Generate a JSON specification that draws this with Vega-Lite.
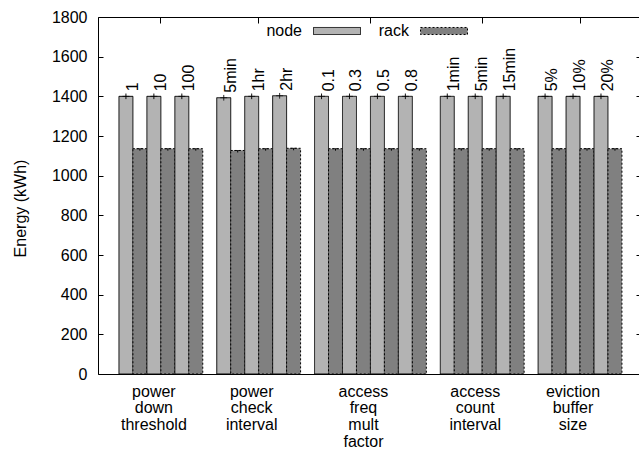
{
  "$schema": "https://vega.github.io/schema/vega-lite/v6.json",
  "width": 541,
  "height": 357,
  "autosize": {"type": "none"},
  "padding": {"left": 98, "top": 17, "right": 0, "bottom": 75},
  "config": {
    "font": "Liberation Sans",
    "view": {"stroke": null},
    "axis": {"domainColor": "black", "tickColor": "black", "labelColor": "black", "labelFont": "Liberation Sans", "labelFontSize": 16, "titleFont": "Liberation Sans", "titleFontSize": 16, "titleFontWeight": "normal", "titleColor": "black", "grid": false, "zindex": 1},
    "legend": {"labelFont": "Liberation Sans", "labelFontSize": 16, "labelColor": "black"}
  },
  "data": {
    "values": [
      {"group": "power down threshold", "setting": "1", "series": "node", "id": "g1|1|node", "energy": 1400, "low": 1386, "high": 1414},
      {"group": "power down threshold", "setting": "1", "series": "rack", "id": "g1|1|rack", "energy": 1136, "low": 1126, "high": 1146},
      {"group": "power down threshold", "setting": "10", "series": "node", "id": "g1|10|node", "energy": 1400, "low": 1386, "high": 1414},
      {"group": "power down threshold", "setting": "10", "series": "rack", "id": "g1|10|rack", "energy": 1136, "low": 1126, "high": 1146},
      {"group": "power down threshold", "setting": "100", "series": "node", "id": "g1|100|node", "energy": 1400, "low": 1386, "high": 1414},
      {"group": "power down threshold", "setting": "100", "series": "rack", "id": "g1|100|rack", "energy": 1136, "low": 1126, "high": 1146},
      {"group": "power check interval", "setting": "5min", "series": "node", "id": "g2|5min|node", "energy": 1393, "low": 1379, "high": 1407},
      {"group": "power check interval", "setting": "5min", "series": "rack", "id": "g2|5min|rack", "energy": 1127, "low": 1117, "high": 1137},
      {"group": "power check interval", "setting": "1hr", "series": "node", "id": "g2|1hr|node", "energy": 1400, "low": 1386, "high": 1414},
      {"group": "power check interval", "setting": "1hr", "series": "rack", "id": "g2|1hr|rack", "energy": 1136, "low": 1126, "high": 1146},
      {"group": "power check interval", "setting": "2hr", "series": "node", "id": "g2|2hr|node", "energy": 1403, "low": 1389, "high": 1417},
      {"group": "power check interval", "setting": "2hr", "series": "rack", "id": "g2|2hr|rack", "energy": 1138, "low": 1128, "high": 1148},
      {"group": "access freq mult factor", "setting": "0.1", "series": "node", "id": "g3|0.1|node", "energy": 1400, "low": 1386, "high": 1414},
      {"group": "access freq mult factor", "setting": "0.1", "series": "rack", "id": "g3|0.1|rack", "energy": 1136, "low": 1126, "high": 1146},
      {"group": "access freq mult factor", "setting": "0.3", "series": "node", "id": "g3|0.3|node", "energy": 1400, "low": 1386, "high": 1414},
      {"group": "access freq mult factor", "setting": "0.3", "series": "rack", "id": "g3|0.3|rack", "energy": 1136, "low": 1126, "high": 1146},
      {"group": "access freq mult factor", "setting": "0.5", "series": "node", "id": "g3|0.5|node", "energy": 1400, "low": 1386, "high": 1414},
      {"group": "access freq mult factor", "setting": "0.5", "series": "rack", "id": "g3|0.5|rack", "energy": 1136, "low": 1126, "high": 1146},
      {"group": "access freq mult factor", "setting": "0.8", "series": "node", "id": "g3|0.8|node", "energy": 1400, "low": 1386, "high": 1414},
      {"group": "access freq mult factor", "setting": "0.8", "series": "rack", "id": "g3|0.8|rack", "energy": 1136, "low": 1126, "high": 1146},
      {"group": "access count interval", "setting": "1min", "series": "node", "id": "g4|1min|node", "energy": 1400, "low": 1386, "high": 1414},
      {"group": "access count interval", "setting": "1min", "series": "rack", "id": "g4|1min|rack", "energy": 1136, "low": 1126, "high": 1146},
      {"group": "access count interval", "setting": "5min", "series": "node", "id": "g4|5min|node", "energy": 1400, "low": 1386, "high": 1414},
      {"group": "access count interval", "setting": "5min", "series": "rack", "id": "g4|5min|rack", "energy": 1136, "low": 1126, "high": 1146},
      {"group": "access count interval", "setting": "15min", "series": "node", "id": "g4|15min|node", "energy": 1400, "low": 1386, "high": 1414},
      {"group": "access count interval", "setting": "15min", "series": "rack", "id": "g4|15min|rack", "energy": 1136, "low": 1126, "high": 1146},
      {"group": "eviction buffer size", "setting": "5%", "series": "node", "id": "g5|5%|node", "energy": 1400, "low": 1386, "high": 1414},
      {"group": "eviction buffer size", "setting": "5%", "series": "rack", "id": "g5|5%|rack", "energy": 1136, "low": 1126, "high": 1146},
      {"group": "eviction buffer size", "setting": "10%", "series": "node", "id": "g5|10%|node", "energy": 1400, "low": 1386, "high": 1414},
      {"group": "eviction buffer size", "setting": "10%", "series": "rack", "id": "g5|10%|rack", "energy": 1136, "low": 1126, "high": 1146},
      {"group": "eviction buffer size", "setting": "20%", "series": "node", "id": "g5|20%|node", "energy": 1400, "low": 1386, "high": 1414},
      {"group": "eviction buffer size", "setting": "20%", "series": "rack", "id": "g5|20%|rack", "energy": 1136, "low": 1126, "high": 1146}
    ]
  },
  "layer": [
    {
      "mark": {"type": "bar", "stroke": "black", "strokeWidth": 1},
      "encoding": {
        "x": {
          "field": "id", "type": "nominal", "sort": null,
          "scale": {
            "type": "band", "paddingInner": 0, "paddingOuter": 0.36, "align": 0.693, "round": false,
            "domain": ["padL",
                       "g1|1|node","g1|1|rack","g1|10|node","g1|10|rack","g1|100|node","g1|100|rack","gap1",
                       "g2|5min|node","g2|5min|rack","g2|1hr|node","g2|1hr|rack","g2|2hr|node","g2|2hr|rack","gap2",
                       "g3|0.1|node","g3|0.1|rack","g3|0.3|node","g3|0.3|rack","g3|0.5|node","g3|0.5|rack","g3|0.8|node","g3|0.8|rack","gap3",
                       "g4|1min|node","g4|1min|rack","g4|5min|node","g4|5min|rack","g4|15min|node","g4|15min|rack","gap4",
                       "g5|5%|node","g5|5%|rack","g5|10%|node","g5|10%|rack","g5|20%|node","g5|20%|rack",
                       "padR"]
          },
          "axis": {
            "orient": "bottom", "title": null, "ticks": false, "domain": true, "bandPosition": 1,
            "values": ["g1|10|node","g2|1hr|node","g3|0.3|rack","g4|5min|node","g5|10%|node"],
            "labelExpr": "datum.value == 'g1|10|node' ? ['power','down','threshold'] : datum.value == 'g2|1hr|node' ? ['power','check','interval'] : datum.value == 'g3|0.3|rack' ? ['access','freq','mult','factor'] : datum.value == 'g4|5min|node' ? ['access','count','interval'] : ['eviction','buffer','size']",
            "labelAngle": 0, "labelAlign": "center", "labelBaseline": "top", "labelPadding": 9, "labelLineHeight": 16.7, "labelOverlap": false, "labelBound": false, "labelFlush": false
          }
        },
        "y": {
          "field": "energy", "type": "quantitative",
          "scale": {"domain": [0, 1800], "nice": false, "zero": true},
          "axis": {"orient": "left", "title": "Energy (kWh)", "values": [0,200,400,600,800,1000,1200,1400,1600,1800], "format": "d", "tickSize": -5, "labelPadding": 16, "titleAngle": 270, "titleX": -73, "titleY": 191, "titleAlign": "center", "titleBaseline": "alphabetic"}
        },
        "fill": {
          "field": "series", "type": "nominal",
          "scale": {"domain": ["node", "rack"], "range": ["#b3b3b3", "#808080"]},
          "legend": {"title": null, "orient": "none", "legendX": 215, "legendY": -10, "direction": "horizontal", "labelAlign": "right", "labelOffset": -59, "columnPadding": 15, "symbolType": "M-1,-0.15H1V0.15H-1Z", "symbolSize": 2209, "symbolStrokeColor": "black", "symbolStrokeWidth": 1,
                     "encode": {"symbols": {"update": {"stroke": {"value": "black"}, "strokeWidth": {"value": 1}}}}}
        },
        "strokeDash": {
          "field": "series", "type": "nominal",
          "scale": {"domain": ["node", "rack"], "range": [[1, 0], [2, 2]]},
          "legend": {"title": null, "orient": "none", "legendX": 215, "legendY": -10, "direction": "horizontal", "labelAlign": "right", "labelOffset": -59, "columnPadding": 15, "symbolType": "M-1,-0.15H1V0.15H-1Z", "symbolSize": 2209, "symbolStrokeColor": "black", "symbolStrokeWidth": 1,
                     "encode": {"symbols": {"update": {"stroke": {"value": "black"}, "strokeWidth": {"value": 1}}}}}
        }
      }
    },
    {
      "mark": {"type": "rule", "color": "black", "strokeWidth": 1},
      "encoding": {
        "x": {
          "field": "id", "type": "nominal", "sort": null,
          "axis": {"orient": "top", "title": null, "labels": false, "ticks": true, "tickSize": -6, "domain": true, "bandPosition": 1,
                   "values": ["g1|10|node","g2|1hr|node","g3|0.3|rack","g4|5min|node","g5|10%|node"]}
        },
        "y": {
          "field": "low", "type": "quantitative",
          "axis": {"orient": "right", "title": null, "labels": false, "domain": false, "tickSize": -3, "values": [0,200,400,600,800,1000,1200,1400,1600,1800]}
        },
        "y2": {"field": "high"},
        "strokeDash": {"field": "series", "type": "nominal", "legend": null}
      }
    },
    {
      "mark": {"type": "tick", "color": "black", "thickness": 1, "size": 7},
      "encoding": {
        "x": {"field": "id", "type": "nominal", "sort": null, "axis": null},
        "y": {"field": "energy", "type": "quantitative", "axis": null},
        "strokeDash": {"field": "series", "type": "nominal", "legend": null}
      }
    },
    {
      "transform": [{"filter": "datum.series == 'node'"}],
      "mark": {"type": "text", "angle": 270, "align": "left", "baseline": "middle", "dx": 5, "fontSize": 16, "font": "Liberation Sans", "color": "black"},
      "encoding": {
        "x": {"field": "id", "type": "nominal", "sort": null, "bandPosition": 1, "axis": null},
        "y": {"field": "energy", "type": "quantitative", "axis": null},
        "text": {"field": "setting", "type": "nominal"}
      }
    }
  ],
  "resolve": {"axis": {"x": "independent", "y": "independent"}}
}
